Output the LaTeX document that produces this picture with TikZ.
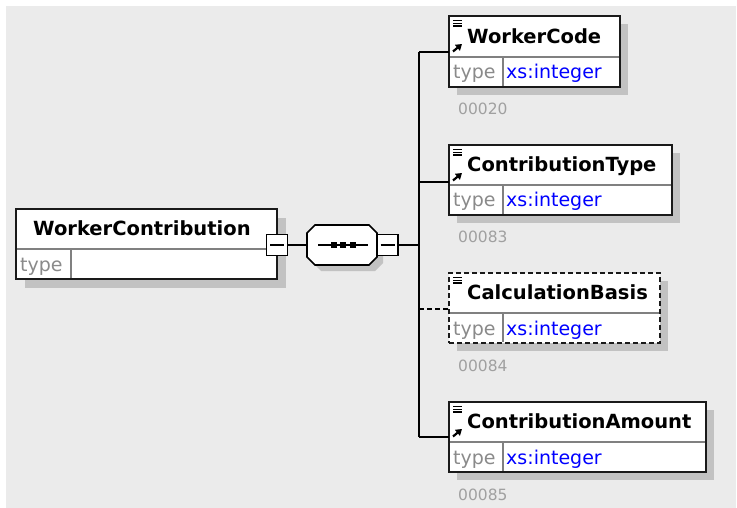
\documentclass[tikz,border=0pt]{standalone}
\usepackage{fontspec}
\setmainfont{DejaVu Sans}
\usetikzlibrary{calc,arrows.meta}
\definecolor{bg}{HTML}{EBEBEB}
\definecolor{shd}{HTML}{C2C2C2}
\definecolor{divc}{HTML}{808080}
\definecolor{typec}{HTML}{8A8A8A}
\definecolor{numc}{HTML}{A0A0A0}
\definecolor{xsblue}{HTML}{0000FF}
\definecolor{bordc}{HTML}{1A1A1A}
\tikzset{
 elem/.style={draw=bordc, line width=2pt, fill=white, rectangle, inner sep=0pt, outer sep=0pt, anchor=north west},
 optelem/.style={elem, dash pattern=on 5pt off 3pt},
 shadowbox/.style={fill=shd, draw=none},
 divider/.style={draw=divc, line width=1.2pt},
 title/.style={font=\bfseries\fontsize{19.5}{20}\selectfont, inner sep=0pt, anchor=base west},
 typelbl/.style={text=typec, font=\fontsize{19}{20}\selectfont, inner sep=0pt, anchor=base west},
 xsval/.style={text=xsblue, font=\fontsize{19}{20}\selectfont, inner sep=0pt, anchor=base west},
 numlbl/.style={text=numc, font=\fontsize{15.5}{16}\selectfont, inner sep=0pt, anchor=base west},
 conn/.style={draw=black, line width=2pt},
 optconn/.style={conn, dash pattern=on 5pt off 3pt},
 minusbox/.style={draw=black, line width=1.6pt, fill=white, minimum width=21pt, minimum height=21pt, inner sep=0pt},
 iconline/.style={draw=black, line width=1.3pt},
 iconarrow/.style={draw=black, line width=2.2pt, -{Triangle[length=6pt,width=7.5pt]}},
}
\begin{document}
\begin{tikzpicture}[x=1pt,y=-1pt]
\useasboundingbox (0,0) rectangle (737,508);
\fill[white] (0,0) rectangle (737,508);
\fill[bg] (6,6) rectangle (736,508);

% ---------- root element ----------
\fill[shadowbox] (25,218) rectangle (286,288);
\node[elem, minimum width=261pt, minimum height=70pt] (root) at (16,209) {};
\draw[divider] (17,249) -- (276,249);
\draw[divider] (71,249) -- (71,278);
\node[title] (rootname) at (33,236) {WorkerContribution};
\node[typelbl] (roottype) at (20,272) {type};

% ---------- sequence compositor ----------
\node[minimum width=70pt, minimum height=40pt, inner sep=0pt, outer sep=0pt] (seq) at (342,245) {};
\fill[shd] ($(seq.north west)+(14,6)$) -- ($(seq.north east)+(-2,6)$) -- ($(seq.north east)+(6,14)$) -- ($(seq.south east)+(6,-2)$) -- ($(seq.south east)+(-2,6)$) -- ($(seq.south west)+(14,6)$) -- ($(seq.south west)+(6,-2)$) -- ($(seq.north west)+(6,14)$) -- cycle;
\draw[line width=1.6pt, fill=white] ($(seq.north west)+(8,0)$) -- ($(seq.north east)+(-8,0)$) -- ($(seq.north east)+(0,8)$) -- ($(seq.south east)+(0,-8)$) -- ($(seq.south east)+(-8,0)$) -- ($(seq.south west)+(8,0)$) -- ($(seq.south west)+(0,-8)$) -- ($(seq.north west)+(0,8)$) -- cycle;
\draw[line width=1.5pt] ($(seq.center)+(-24,0)$) -- ($(seq.center)+(26,0)$);
\fill ($(seq.center)+(-11.5,-3)$) rectangle +(6,6);
\fill ($(seq.center)+(-2,-3)$) rectangle +(6,6);
\fill ($(seq.center)+(7.5,-3)$) rectangle +(6,6);

% minus boxes
\node[minusbox] (m1) at (277,245) {};
\draw[line width=1.6pt] ([xshift=-7pt]m1.center) -- ([xshift=7pt]m1.center);
\node[minusbox] (m2) at (387.5,245) {};
\draw[line width=1.6pt] ([xshift=-7pt]m2.center) -- ([xshift=7pt]m2.center);

% ---------- child elements ----------
% WorkerCode
\fill[shadowbox] (457,24) rectangle (628,95);
\node[elem, minimum width=171pt, minimum height=71pt] (wc) at (449,16) {};
\draw[divider] (450,57) -- (619,57);
\draw[divider] (503,57) -- (503,86);
\draw[iconline] (453,20.5) -- (462,20.5) (453,23.2) -- (462,23.2) (453,25.9) -- (462,25.9);
\draw[iconarrow] (453,51.5) -- (462,44);
\node[title] (wcname) at (467,44) {WorkerCode};
\node[typelbl] (wctype) at (453,79) {type};
\node[xsval] (wcval) at (506,79) {xs:integer};
\node[numlbl] (wcnum) at (458,115) {00020};

% ContributionType
\fill[shadowbox] (457,153) rectangle (680,223);
\node[elem, minimum width=223pt, minimum height=70pt] (ct) at (449,145) {};
\draw[divider] (450,185) -- (671,185);
\draw[divider] (503,185) -- (503,214);
\draw[iconline] (453,149.5) -- (462,149.5) (453,152.2) -- (462,152.2) (453,154.9) -- (462,154.9);
\draw[iconarrow] (453,180.5) -- (462,173);
\node[title] (ctname) at (467,172) {ContributionType};
\node[typelbl] (cttype) at (453,207) {type};
\node[xsval] (ctval) at (506,207) {xs:integer};
\node[numlbl] (ctnum) at (458,243) {00083};

% CalculationBasis (optional)
\fill[shadowbox] (457,281) rectangle (668,351);
\node[optelem, minimum width=211pt, minimum height=70pt] (cb) at (449,273) {};
\draw[divider] (450,313) -- (659,313);
\draw[divider] (503,313) -- (503,342);
\draw[iconline] (453,277.5) -- (462,277.5) (453,280.2) -- (462,280.2) (453,282.9) -- (462,282.9);
\node[title] (cbname) at (467,299) {CalculationBasis};
\node[typelbl] (cbtype) at (453,335) {type};
\node[xsval] (cbval) at (506,335) {xs:integer};
\node[numlbl] (cbnum) at (458,371) {00084};

% ContributionAmount
\fill[shadowbox] (457,410) rectangle (714,480);
\node[elem, minimum width=257pt, minimum height=70pt] (ca) at (449,402) {};
\draw[divider] (450,442) -- (705,442);
\draw[divider] (503,442) -- (503,471);
\draw[iconline] (453,406.5) -- (462,406.5) (453,409.2) -- (462,409.2) (453,411.9) -- (462,411.9);
\draw[iconarrow] (453,436.5) -- (462,429);
\node[title] (caname) at (467,428) {ContributionAmount};
\node[typelbl] (catype) at (453,464) {type};
\node[xsval] (caval) at (506,464) {xs:integer};
\node[numlbl] (canum) at (458,500) {00085};

% ---------- connectors ----------
\coordinate (jtop) at (419,52);
\coordinate (j2) at (419,182);
\coordinate (j3) at (419,309);
\coordinate (jbot) at (419,437);
\draw[conn] (m1.east) -- (seq.west);
\draw[conn] (m2.east) -- (m2.east -| jtop);
\draw[conn] (jtop) -- (jbot);
\draw[conn] (jtop) -- (jtop -| wc.west);
\draw[conn] (j2) -- (j2 -| ct.west);
\draw[optconn] (j3) -- (j3 -| cb.west);
\draw[conn] (jbot) -- (jbot -| ca.west);
\end{tikzpicture}
\end{document}
